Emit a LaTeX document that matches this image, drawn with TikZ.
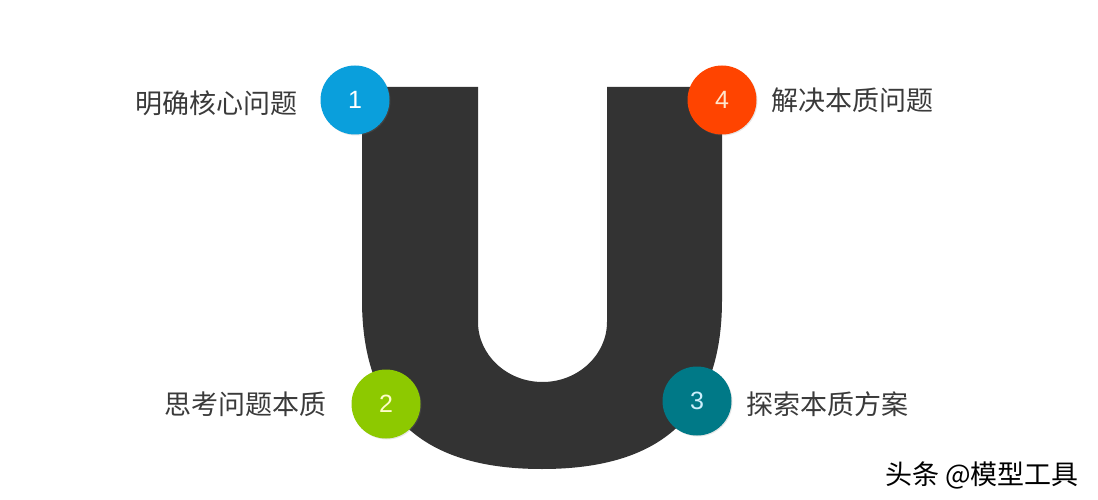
\documentclass[tikz,border=0pt]{standalone}
\usepackage{fontspec}
\newfontfamily\cjkfont{Noto Sans CJK SC}
\newfontfamily\numfont{Liberation Sans}
\usetikzlibrary{positioning,shadows}
\definecolor{ugray}{HTML}{333333}
\definecolor{txtgray}{HTML}{3A3A3A}
\definecolor{stepblue}{HTML}{0A9FDC}
\definecolor{stepgreen}{HTML}{8DC900}
\definecolor{stepteal}{HTML}{007987}
\definecolor{stepred}{HTML}{FF4400}

\begin{document}
\begin{tikzpicture}[x=1pt,y=-1pt,
  dot/.style={circle,minimum size=69pt,inner sep=0pt,
    drop shadow={opacity=0.2,shadow xshift=1pt,shadow yshift=-1pt},
    font=\numfont\fontsize{25}{25}\selectfont},
  lbl/.style={inner sep=0pt,text=txtgray,font=\cjkfont\fontsize{27}{30}\selectfont}]

% canvas: pixel coordinates, y pointing down
\useasboundingbox (0,0) rectangle (1098,500);

% U shape (arms, inner and outer bottom)
\def\uTop{87}
\fill[ugray] (362,\uTop) -- (478,\uTop) -- (478,322)
  .. controls (478,355) and (507,382) .. (542.5,382)
  .. controls (578,382) and (607,355) .. (607,322) -- (607,\uTop)
  -- (722,\uTop) -- (722,300)
  .. controls (722,430) and (644,469) .. (542,469)
  .. controls (440,469) and (362,430) .. (362,300) -- cycle;

% numbered steps
\node[dot,fill=stepblue,text=white] (c1) at (355,100) {1};
\node[dot,fill=stepgreen,text=yellow!20] (c2) at (386,404) {2};
\node[dot,fill=stepteal,text=cyan!20] (c3) at (697,401) {3};
\node[dot,fill=stepred,text=orange!20] (c4) at (722,100) {4};

% step labels
\node[lbl,left=23pt of c1,yshift=-3pt] (t1) {明确核心问题};
\node[lbl,left=25pt of c2] (t2) {思考问题本质};
\node[lbl,right=15pt of c3,yshift=-3pt] (t3) {探索本质方案};
\node[lbl,right=15pt of c4] (t4) {解决本质问题};

% watermark
\node[inner sep=0pt,font=\cjkfont\fontsize{27}{30}\selectfont] (mark) at (982,475) {头条 @模型工具};

\end{tikzpicture}
\end{document}
